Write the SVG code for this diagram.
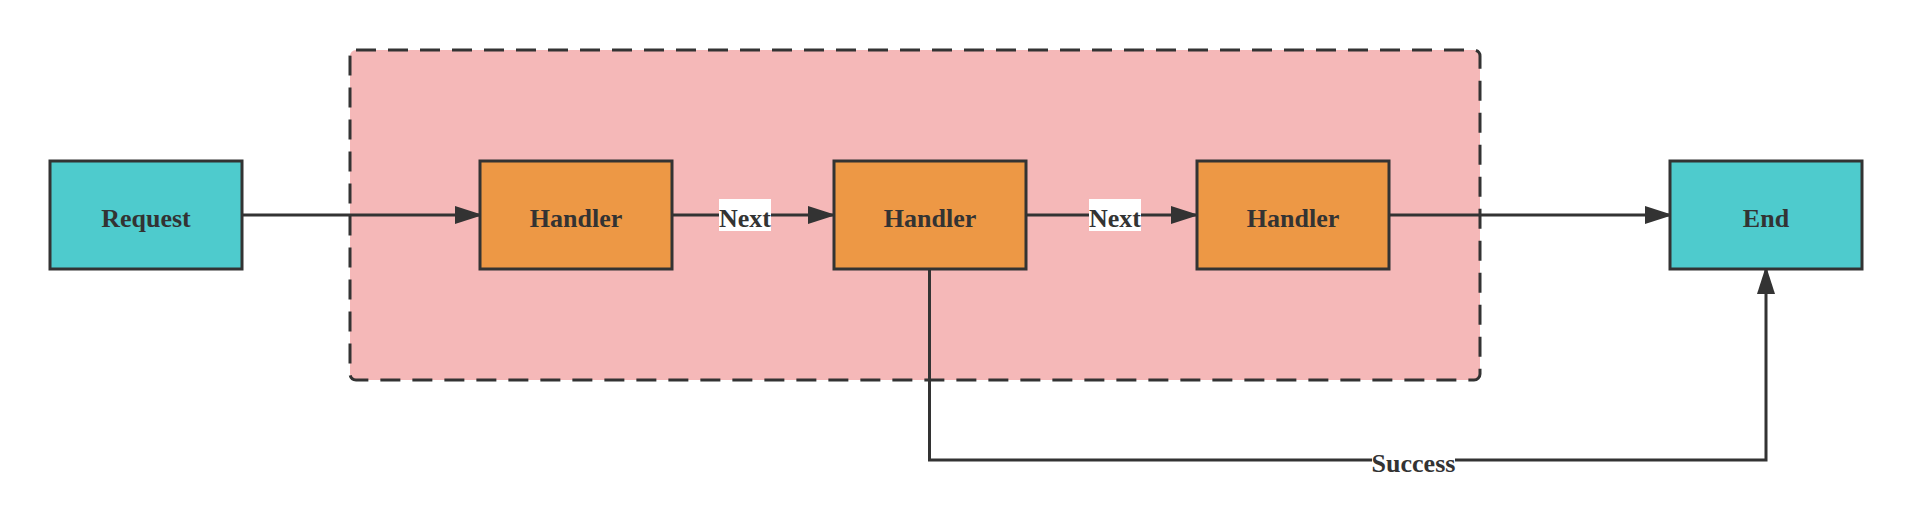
<svg xmlns="http://www.w3.org/2000/svg" width="1912" height="510" viewBox="0 0 1912 510">
<style>
  .node rect { stroke: #333; stroke-width: 3; }
  .term rect { fill: #4ecbcd; }
  .handler rect { fill: #ed9845; }
  .node text, .lbl text { font-family: "Liberation Serif", "Times New Roman", serif; font-weight: bold; font-size: 26px; fill: #333; text-anchor: middle; }
  .edge { fill: none; stroke: #333; stroke-width: 3; }
  .lbl rect { fill: #ffffff; }
  .cluster { fill: #f5b8b8; stroke: #333; stroke-width: 3; stroke-dasharray: 20 12; }
</style>
<defs>
  <marker id="arrow" markerUnits="userSpaceOnUse" viewBox="0 0 28 18" markerWidth="28" markerHeight="18" refX="28" refY="9" orient="auto">
    <path d="M0,0 L28,9 L0,18 z" fill="#333"/>
  </marker>
</defs>
<g id="cluster-chain">
  <rect class="cluster" x="350" y="50" width="1130" height="330" rx="6" ry="6"/>
</g>
<g id="connectors">
  <path class="edge" d="M242,215 L483,215" marker-end="url(#arrow)"/>
  <path class="edge" d="M672,215 L836,215" marker-end="url(#arrow)"/>
  <path class="edge" d="M1026,215 L1199,215" marker-end="url(#arrow)"/>
  <path class="edge" d="M1389,215 L1673,215" marker-end="url(#arrow)"/>
  <path class="edge" d="M929.5,269 L929.5,460 L1766,460 L1766,266" marker-end="url(#arrow)"/>
  <g class="lbl">
    <rect x="719" y="199" width="52" height="32"/>
    <text x="745" y="226.5">Next</text>
  </g>
  <g class="lbl">
    <rect x="1089" y="199" width="52" height="32"/>
    <text x="1115" y="226.5">Next</text>
  </g>
  <g class="lbl">
    <rect x="1372" y="444" width="83" height="32"/>
    <text x="1413.5" y="471.5">Success</text>
  </g>
</g>
<g id="node-request" class="node term">
  <rect x="50" y="161" width="192" height="108"/>
  <text x="146" y="226.5">Request</text>
</g>
<g id="node-handler1" class="node handler">
  <rect x="480" y="161" width="192" height="108"/>
  <text x="576" y="226.5">Handler</text>
</g>
<g id="node-handler2" class="node handler">
  <rect x="834" y="161" width="192" height="108"/>
  <text x="930" y="226.5">Handler</text>
</g>
<g id="node-handler3" class="node handler">
  <rect x="1197" y="161" width="192" height="108"/>
  <text x="1293" y="226.5">Handler</text>
</g>
<g id="node-end" class="node term">
  <rect x="1670" y="161" width="192" height="108"/>
  <text x="1766" y="226.5">End</text>
</g>
</svg>
